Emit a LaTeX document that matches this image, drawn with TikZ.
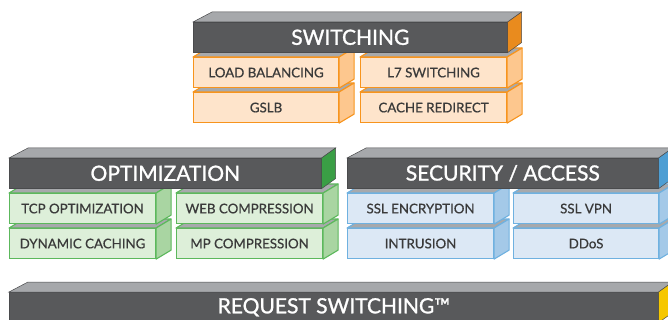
\documentclass[tikz,border=0pt]{standalone}
\usepackage{fontspec}
\setmainfont{Lato}
\newfontfamily\hdfont[FakeBold=1.2]{Lato}
\newfontfamily\subfont[FakeBold=0.6]{Lato}
\usetikzlibrary{calc}
\definecolor{hdfront}{HTML}{58595B}
\definecolor{hdline}{HTML}{4A4B4D}
\definecolor{hdtop}{HTML}{A6A8AB}
\definecolor{orside}{HTML}{E98B1E}
\definecolor{grside}{HTML}{3A9E45}
\definecolor{blside}{HTML}{4E9ED3}
\definecolor{yeside}{HTML}{F6C700}
\definecolor{orfill}{HTML}{FEE4CB}
\definecolor{orline}{HTML}{F7941D}
\definecolor{orsub}{HTML}{FDC78E}
\definecolor{grfill}{HTML}{DDEFD9}
\definecolor{grline}{HTML}{5CB85C}
\definecolor{grsub}{HTML}{A9D5A2}
\definecolor{blfill}{HTML}{DCE8F5}
\definecolor{blline}{HTML}{6FB1E0}
\definecolor{blsub}{HTML}{A4C9E8}
\definecolor{subtop}{HTML}{A7A9AC}
\definecolor{subtext}{HTML}{3A3A3A}
\tikzset{
  hdfrontst/.style={fill=hdfront, draw=hdline, line width=0.6pt, minimum height=30pt, inner sep=0pt,
    text=white, font=\hdfont\fontsize{21}{21}\selectfont, anchor=north west},
  subfront/.style={line width=1.1pt, minimum height=30pt, inner sep=0pt, text=subtext,
    font=\subfont\fontsize{13.3}{13.3}\selectfont, anchor=north west},
}
% name, x, y, width, text, sidecolor
\newcommand\hdrbox[6]{%
  \node[hdfrontst, minimum width=#4] (#1) at (#2,#3) {#5};
  \filldraw[fill=hdtop, draw=hdline, line width=0.5pt] (#1.north west) -- ++(19,-10) -- ($(#1.north east)+(14,-10)$) -- (#1.north east) -- cycle;
  \filldraw[fill=#6, draw=hdline, line width=0.5pt] (#1.north east) -- ++(14,-10) -- ($(#1.south east)+(14,-10)$) -- (#1.south east) -- cycle;
}
% name, x, y, width, text, fill, line, side
\newcommand\subbx[8]{%
  \node[subfront, minimum width=#4, fill=#6, draw=#7] (#1) at (#2,#3) {#5};
  \filldraw[fill=subtop, draw=#7, line width=1.1pt, line join=round] (#1.north west) -- ++(15,-9) -- ($(#1.north east)+(15,-9)$) -- (#1.north east) -- cycle;
  \filldraw[fill=#8, draw=#7, line width=1.1pt, line join=round] (#1.north east) -- ++(15,-9) -- ($(#1.south east)+(15,-9)$) -- (#1.south east) -- cycle;
}
\begin{document}
\begin{tikzpicture}[x={(1pt,0)}, y={(0,-1pt)}]
\useasboundingbox (0,0) rectangle (668,320);
\clip (0,0) rectangle (668,320);
% Switching
\subbx{gslb}{193}{92}{145}{GSLB}{orfill}{orline}{orsub}
\subbx{cache}{360}{92}{146}{CACHE REDIRECT}{orfill}{orline}{orsub}
\subbx{lb}{193}{57}{145}{LOAD BALANCING}{orfill}{orline}{orsub}
\subbx{l7}{360}{57}{146}{L7 SWITCHING}{orfill}{orline}{orsub}
\hdrbox{sw}{193}{22}{314}{SWITCHING}{orside}
% Optimization
\subbx{dyn}{9}{228}{146}{DYNAMIC CACHING}{grfill}{grline}{grsub}
\subbx{mp}{176}{228}{146}{MP COMPRESSION}{grfill}{grline}{grsub}
\subbx{tcp}{9}{193}{146}{TCP OPTIMIZATION}{grfill}{grline}{grsub}
\subbx{web}{176}{193}{146}{WEB COMPRESSION}{grfill}{grline}{grsub}
\hdrbox{opt}{9}{158}{312}{OPTIMIZATION}{grside}
% Security
\subbx{intr}{347}{228}{146}{INTRUSION}{blfill}{blline}{blsub}
\subbx{ddos}{513}{228}{145}{DDoS}{blfill}{blline}{blsub}
\subbx{ssl}{347}{193}{146}{SSL ENCRYPTION}{blfill}{blline}{blsub}
\subbx{vpn}{513}{193}{145}{SSL VPN}{blfill}{blline}{blsub}
\hdrbox{sec}{347}{158}{311}{SECURITY / ACCESS}{blside}
% Request switching
\hdrbox{req}{9}{292}{649}{REQUEST SWITCHING™}{yeside}
\end{tikzpicture}
\end{document}
